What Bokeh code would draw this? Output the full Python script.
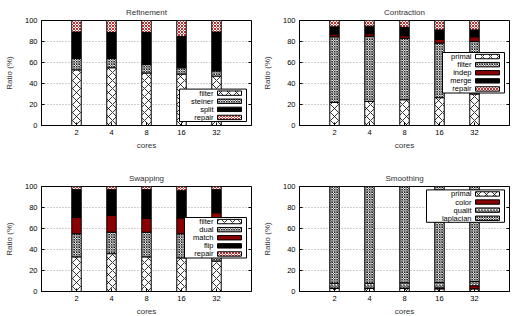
import numpy as np
from bokeh.plotting import figure
from bokeh.layouts import column, row
from bokeh.models import FixedTicker, Range1d, Label
from bokeh.embed import file_html
from bokeh.resources import INLINE

cores = ["2", "4", "8", "16", "32"]
yticks = [0, 20, 40, 60, 80, 100]

# Refinement phase breakdown (% of time)
ref_filter = [53, 55, 50, 49, 47]
ref_steiner = [11, 9, 8, 6, 5]
ref_split = [25, 24.5, 30.5, 29.7, 37]
ref_repair = [11, 11.5, 11.5, 15.3, 11]

# Contraction
con_primal = [22, 23, 24.5, 26.5, 30]
con_filter = [62.5, 62, 58.5, 52, 50]
con_indep = [2.5, 2.5, 2.5, 3.5, 4.5]
con_merge = [7, 7, 8, 9, 6.5]
con_repair = [6, 5.5, 6.5, 9, 9]

# Swapping
swp_filter = [33, 36, 33, 32, 29]
swp_dual = [22, 20.5, 23.5, 23, 26]
swp_match = [15.5, 16, 13, 15, 20]
swp_flip = [26.5, 24.5, 27.5, 26, 22]
swp_repair = [3, 3, 3, 4, 3]

# Smoothing
smo_primal = [3, 3, 3, 2.5, 2.5]
smo_color = [0.3, 0.3, 0.3, 1, 3]
smo_qualit = [4.5, 4.5, 5, 5, 4]
smo_laplacian = [92.2, 92.2, 91.7, 91.5, 90.5]

FONT = "Liberation Sans"
TXT = "black"

STYLES = {
    "cross": dict(fill_color="white", hatch_pattern="diagonal_cross", hatch_color="black",
                  hatch_scale=8, hatch_weight=0.8),
    "dense": dict(fill_color="white", hatch_pattern="diagonal_cross", hatch_color="black",
                  hatch_scale=2.5, hatch_weight=0.8),
    "solid": dict(fill_color="black"),
    "red": dict(fill_color="#8b0000"),
    "pink": dict(fill_color="white", hatch_pattern="diagonal_cross", hatch_color="#c03030",
                 hatch_scale=3, hatch_weight=1),
    "stripe": dict(fill_color="white", hatch_pattern="right_diagonal_line", hatch_color="black",
                   hatch_scale=3, hatch_weight=0.8),
}

FW, FH = 210, 105
XMAX = len(cores) + 1


def px_x(px):
    return px * XMAX / FW


def px_y(py):
    return 100 - py * 100 / FH


def panel(title, names, series, styles, legend_left, legend_top, border_top, border_bottom):
    p = figure(frame_width=FW, frame_height=FH, x_range=Range1d(0, XMAX), y_range=Range1d(0, 100),
               output_backend="svg", toolbar_location=None, title=title,
               min_border_left=41, min_border_right=7,
               min_border_top=border_top, min_border_bottom=border_bottom)
    p.title.align = "center"
    p.title.text_font = FONT
    p.title.text_font_size = "8px"
    p.title.text_font_style = "normal"
    p.title.text_color = "#333333"
    p.title.standoff = 7

    x = np.arange(1, len(cores) + 1)
    bottom = np.zeros(len(cores))
    for vals, st in zip(series, styles):
        top = bottom + np.array(vals, dtype=float)
        p.vbar(x=x, bottom=bottom, top=top, width=0.27, line_color="black", line_width=1,
               **STYLES[st])
        bottom = top

    # mirrored y ticks on the right edge of the frame
    p.segment(x0=[px_x(FW - 3)] * len(yticks), x1=[XMAX] * len(yticks), y0=yticks, y1=yticks,
              line_color="black", line_width=1)

    # legend box: label on the left, sample on the right
    row_h = 8.1
    n = len(names)
    p.quad(left=[px_x(legend_left)], right=[px_x(205)], top=[px_y(legend_top)],
           bottom=[px_y(legend_top + row_h * n)], fill_color="white", line_color="black",
           line_width=1)
    for i, (name, st) in enumerate(zip(names, styles)):
        cy = legend_top + row_h * (i + 0.5)
        p.quad(left=[px_x(176)], right=[px_x(200)], top=[px_y(cy - 2.2)], bottom=[px_y(cy + 2.2)],
               line_color="black", line_width=1, **STYLES[st])
        p.add_layout(Label(x=px_x(172), y=px_y(cy), text=name, text_font=FONT,
                           text_font_size="7.5px", text_align="right", text_baseline="middle",
                           text_color=TXT))

    p.xaxis.ticker = FixedTicker(ticks=[float(v) for v in x])
    p.xaxis.major_label_overrides = {float(v): c for v, c in zip(x, cores)}
    p.yaxis.ticker = FixedTicker(ticks=yticks)
    p.xaxis.axis_label = "cores"
    p.yaxis.axis_label = "Ratio (%)"
    for ax in (p.xaxis, p.yaxis):
        ax.axis_line_color = "black"
        ax.major_tick_in = 3
        ax.major_tick_out = 0
        ax.minor_tick_line_color = None
        ax.major_label_text_font = FONT
        ax.major_label_text_font_size = "7.5px"
        ax.major_label_text_color = TXT
        ax.axis_label_text_font = FONT
        ax.axis_label_text_font_size = "8px"
        ax.axis_label_text_font_style = "normal"
        ax.axis_label_text_color = "#333333"
        ax.major_label_standoff = 4
    p.yaxis.axis_label_standoff = 8
    p.xaxis.axis_label_standoff = 3

    p.xgrid.visible = False
    p.ygrid.ticker = FixedTicker(ticks=[20, 40, 60, 80])
    p.ygrid.grid_line_color = "#888888"
    p.ygrid.grid_line_dash = "1 2"
    p.ygrid.grid_line_width = 0.8
    p.outline_line_color = "black"
    p.outline_line_width = 1
    p.background_fill_color = "white"
    p.border_fill_color = "white"
    return p


p1 = panel("Refinement", ["filter", "steiner", "split", "repair"],
           [ref_filter, ref_steiner, ref_split, ref_repair],
           ["cross", "dense", "solid", "pink"], 138, 68.6, 20, 33)
p2 = panel("Contraction", ["primal", "filter", "indep", "merge", "repair"],
           [con_primal, con_filter, con_indep, con_merge, con_repair],
           ["cross", "dense", "red", "solid", "pink"], 143, 32, 20, 33)
p3 = panel("Swapping", ["filter", "dual", "match", "flip", "repair"],
           [swp_filter, swp_dual, swp_match, swp_flip, swp_repair],
           ["cross", "dense", "red", "solid", "pink"], 143, 31, 28, 25)
p4 = panel("Smoothing", ["primal", "color", "qualit", "laplacian"],
           [smo_primal, smo_color, smo_qualit, smo_laplacian],
           ["cross", "red", "stripe", "dense"], 127, 3.4, 28, 25)

layout = column(row(p1, p2), row(p3, p4))
open("out.html", "w").write(file_html(layout, INLINE))
